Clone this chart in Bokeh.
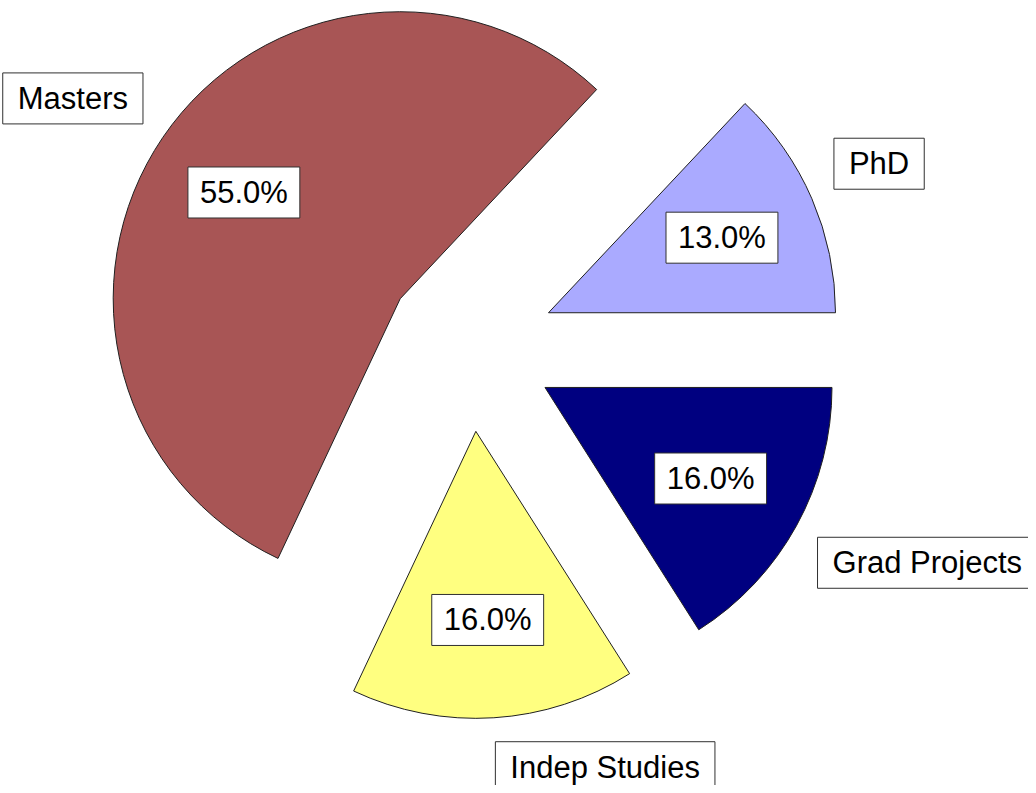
import math
from bokeh.plotting import figure
from bokeh.models import ColumnDataSource, Range1d
from bokeh.core.properties import value
from bokeh.embed import file_html
from bokeh.resources import INLINE

# ---- data ----
categories = ["PhD", "Grad Projects", "Indep Studies", "Masters"]
values = [13, 16, 16, 55]
colors = ["#AAAAFF", "#000080", "#FFFF80", "#A85555"]

# ---- layout / style ----
W, H = 1028, 785
CX, CY = 470.0, -346.0      # pie centre (data units = screen px, y negated)
RADIUS = 287.0
EXPLODE = 85.0
START_DEG = 46.8             # angle where the first slice begins (clockwise)
R_VALUE = 189.0
R_LABEL = 311.0
FONT = value("Liberation Sans")
FSIZE = "31px"

total = float(sum(values))
starts, ends, xs, ys = [], [], [], []
vx, vy, vtext = [], [], []
lx, ly, lalign, lbase = [], [], [], []
cum = 0.0
for cat, v in zip(categories, values):
    span = v / total * 360.0
    end = START_DEG - cum
    start = end - span
    cum += span
    mid = math.radians((start + end) / 2.0)
    ax = CX + EXPLODE * math.cos(mid)
    ay = CY + EXPLODE * math.sin(mid)
    starts.append(start)
    ends.append(end)
    xs.append(ax)
    ys.append(ay)
    vx.append(ax + R_VALUE * math.cos(mid))
    vy.append(ay + R_VALUE * math.sin(mid))
    vtext.append(f"{v / total * 100:.1f}%")
    lx.append(ax + R_LABEL * math.cos(mid))
    ly.append(ay + R_LABEL * math.sin(mid))
    lalign.append("left" if math.cos(mid) >= 0 else "right")
    lbase.append("bottom" if math.sin(mid) >= 0 else "top")

src = ColumnDataSource(dict(x=xs, y=ys, start=starts, end=ends, color=colors))
vsrc = ColumnDataSource(dict(x=vx, y=vy, text=vtext))
lsrc = ColumnDataSource(dict(x=lx, y=ly, text=categories, align=lalign, base=lbase))

p = figure(width=W, height=H, x_range=Range1d(0, W), y_range=Range1d(-H, 0),
           output_backend="svg", toolbar_location=None,
           x_axis_type=None, y_axis_type=None, min_border=0,
           outline_line_color=None, match_aspect=False)
p.grid.visible = False
p.background_fill_color = "white"
p.border_fill_color = "white"

p.wedge(x="x", y="y", radius=RADIUS, start_angle="start", end_angle="end",
        start_angle_units="deg", end_angle_units="deg", direction="anticlock",
        fill_color="color", line_color="#202020", line_width=1, source=src)

# padding tuple order: (left, right, top, bottom)
p.text(x="x", y="y", text="text", source=vsrc, text_font=FONT, text_font_size=FSIZE,
       text_color="black", text_align="center", text_baseline="middle",
       background_fill_color="white", border_line_color="#303030", border_line_width=1,
       padding=(12, 12, 8, 8))

p.text(x="x", y="y", text="text", source=lsrc, text_font=FONT, text_font_size=FSIZE,
       text_color="black", text_align="align", text_baseline="base",
       background_fill_color="white", border_line_color="#303030", border_line_width=1,
       padding=(15, 15, 8, 8))

open("out.html", "w").write(file_html(p, INLINE))
